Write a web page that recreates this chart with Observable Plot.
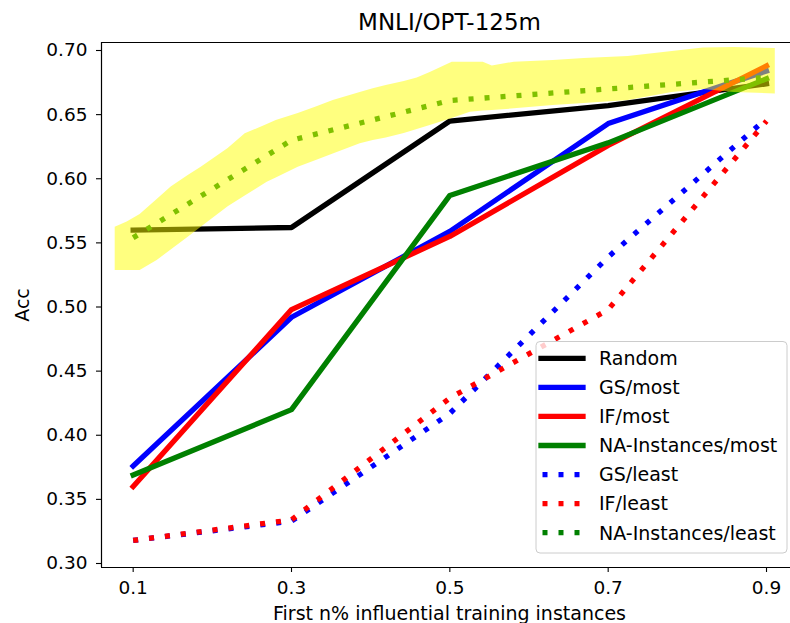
<!DOCTYPE html>
<html><head><meta charset="utf-8">
<script src="https://cdn.jsdelivr.net/npm/d3@7"></script>
<script src="https://cdn.jsdelivr.net/npm/@observablehq/plot@0.6"></script>
<style>body{margin:0;background:#fff;overflow:hidden}</style>
</head><body><div id="chart"></div>
<script>
// ---- text ----
const title = "MNLI/OPT-125m";
const xLabel = "First n% influential training instances";
const yLabel = "Acc";

// ---- ticks / categories ----
const fractions = [0.1, 0.3, 0.5, 0.7, 0.9];
const yTicks = [0.30, 0.35, 0.40, 0.45, 0.50, 0.55, 0.60, 0.65, 0.70];

// ---- series values ----
const random      = [0.560, 0.562, 0.645, 0.657, 0.674];
const gsMost      = [0.376, 0.492, 0.559, 0.643, 0.684];
const ifMost      = [0.360, 0.498, 0.555, 0.626, 0.688];
const naMost      = [0.369, 0.420, 0.587, 0.628, 0.678];
const gsLeast     = [0.318, 0.333, 0.417, 0.539, 0.647];
const ifLeast     = [0.318, 0.334, 0.429, 0.498, 0.645];
const naLeast     = [0.554, 0.630, 0.661, 0.670, 0.679];

const seriesNames  = ["Random", "GS/most", "IF/most", "NA-Instances/most", "GS/least", "IF/least", "NA-Instances/least"];
const seriesValues = [random, gsMost, ifMost, naMost, gsLeast, ifLeast, naLeast];
const seriesColors = ["black", "blue", "red", "green", "blue", "red", "green"];
const seriesDotted = [false, false, false, false, true, true, true];

// ---- yellow highlight band (hand-drawn highlighter) ----
const bandX    = [0.0773, 0.0924, 0.1088, 0.1303, 0.148, 0.1695, 0.1859, 0.22, 0.2415, 0.2693, 0.2807, 0.3085, 0.3312, 0.3527, 0.3868, 0.4032, 0.4196, 0.4424, 0.4588, 0.4752, 0.503, 0.5258, 0.5422, 0.5536, 0.5814, 0.6306, 0.6698, 0.7254, 0.781, 0.8202, 0.8593, 0.9111];
const bandHigh = [0.5622, 0.5663, 0.5721, 0.5838, 0.5936, 0.6025, 0.609, 0.6236, 0.635, 0.6423, 0.6454, 0.6509, 0.6559, 0.661, 0.6673, 0.6701, 0.6727, 0.6758, 0.6786, 0.6828, 0.6909, 0.6909, 0.6909, 0.6879, 0.6909, 0.6922, 0.6938, 0.6953, 0.6992, 0.7019, 0.7023, 0.7016];
const bandLow  = [0.5285, 0.5285, 0.5285, 0.5363, 0.5444, 0.5544, 0.5621, 0.5781, 0.5866, 0.5972, 0.6005, 0.609, 0.6142, 0.6193, 0.6273, 0.6298, 0.6318, 0.6353, 0.6384, 0.6415, 0.647, 0.6519, 0.6528, 0.6532, 0.6545, 0.6571, 0.6587, 0.661, 0.6673, 0.6696, 0.6673, 0.6661];

// ---- build tables ----
const rows = [];
seriesNames.forEach((name, i) => {
  fractions.forEach((f, j) => rows.push({series: name, x: f, y: seriesValues[i][j]}));
});
const band = bandX.map((x, i) => ({x, lo: bandLow[i], hi: bandHigh[i]}));

const xDomain = [0.06, 0.9303];
const yDomain = [0.29688, 0.70624];

const lineMarks = seriesNames.map((name, i) =>
  Plot.line(rows.filter(r => r.series === name), {
    x: "x", y: "y",
    stroke: seriesColors[i],
    strokeWidth: 5.3,
    strokeDasharray: seriesDotted[i] ? "5,11" : null,
    strokeLinecap: seriesDotted[i] ? "butt" : "square",
    strokeLinejoin: "round"
  })
);

const chart = Plot.plot({
  width: 790,
  height: 623,
  marginLeft: 101,
  marginRight: 0,
  marginTop: 42,
  marginBottom: 56,
  style: {fontFamily: "DejaVu Sans", fontSize: "18.5px", color: "black", background: "white"},
  x: {domain: xDomain},
  y: {domain: yDomain},
  marks: [
    Plot.axisX({ticks: fractions, tickFormat: d3.format(".1f"), tickSize: 5, tickPadding: 8, strokeWidth: 1.1, label: null}),
    Plot.axisY({ticks: yTicks, tickFormat: d3.format(".2f"), tickSize: 5, tickPadding: 9, strokeWidth: 1.1, label: null}),
    ...lineMarks,
    Plot.areaY(band, {x: "x", y1: "lo", y2: "hi", fill: "#ffff00", fillOpacity: 0.5}),
    Plot.ruleX([xDomain[0]], {stroke: "black", strokeWidth: 1.2}),
    Plot.ruleY(yDomain, {stroke: "black", strokeWidth: 1.2}),
    Plot.text([title], {text: d => d, frameAnchor: "top", dy: -20, dx: 3.5, lineAnchor: "middle", textAnchor: "middle", fontSize: 23}),
    Plot.text([xLabel], {text: d => d, frameAnchor: "bottom", dy: 46, dx: 3.5, lineAnchor: "middle", textAnchor: "middle", fontSize: 19}),
    Plot.text([yLabel], {text: d => d, frameAnchor: "left", dx: -79, rotate: -90, lineAnchor: "middle", textAnchor: "middle", fontSize: 19})
  ]
});
document.getElementById("chart").appendChild(chart);

// ---- legend (lower right, matplotlib style) ----
const NS = "http://www.w3.org/2000/svg";
function el(parent, tag, attrs) {
  const e = document.createElementNS(NS, tag);
  for (const k in attrs) if (attrs[k] != null) e.setAttribute(k, attrs[k]);
  parent.appendChild(e);
  return e;
}
const lg = el(chart, "g", {"font-family": "DejaVu Sans", "font-size": 19, "text-anchor": "start"});
el(lg, "rect", {x: 536, y: 341.5, width: 251, height: 211.5, rx: 4, ry: 4,
  style: "fill:#ffffff;fill-opacity:0.8;stroke:#cccccc;stroke-width:1"});
seriesNames.forEach((name, i) => {
  const y = 358.3 + i * 29.07;
  el(lg, "line", {
    x1: seriesDotted[i] ? 542.5 : 541, x2: seriesDotted[i] ? 585 : 583, y1: y, y2: y,
    stroke: seriesColors[i], "stroke-width": 5.3,
    "stroke-dasharray": seriesDotted[i] ? "5,11" : null,
    "stroke-linecap": seriesDotted[i] ? "butt" : "square"
  });
  const t = el(lg, "text", {x: 599, y: y, dy: "0.36em", fill: "black", "text-anchor": "start"});
  t.textContent = name;
});
</script>
</body></html>
